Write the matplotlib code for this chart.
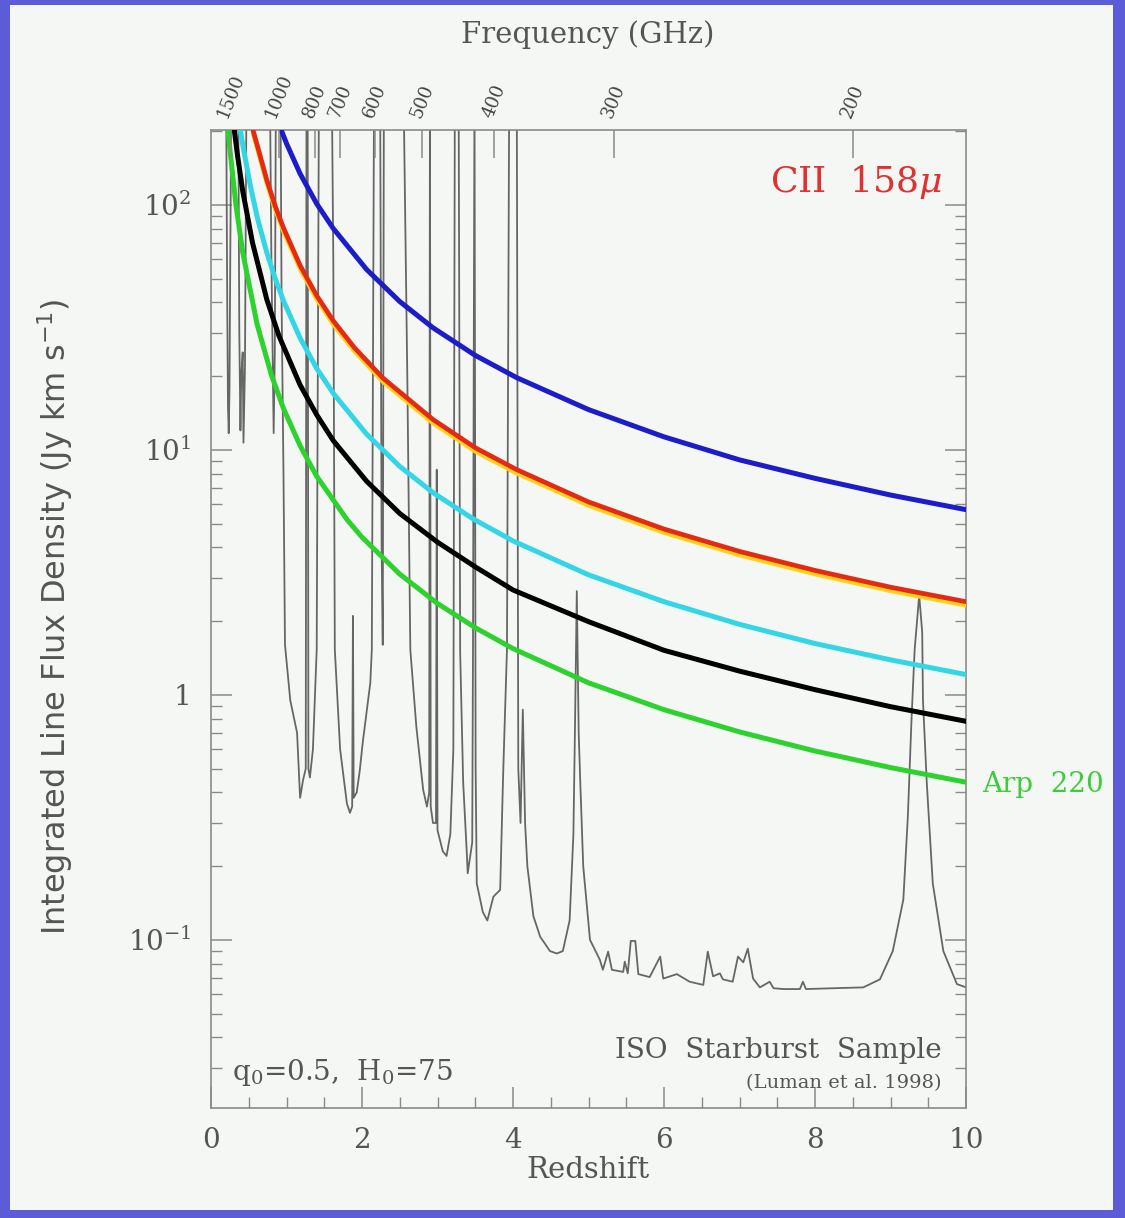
import numpy as np
import matplotlib
matplotlib.use("Agg")
import matplotlib.pyplot as plt
from matplotlib.patches import Rectangle
from matplotlib.ticker import LogLocator, MultipleLocator, NullFormatter, NullLocator

NU_CII = 1900.54   # rest frequency of [CII] 158 micron, GHz

# ---- coloured model curves (redshift, integrated flux Jy km/s) ----
blue_z = [0.90, 0.93, 1.0, 1.18, 1.4, 1.62, 2.06, 2.5, 2.94, 3.5, 4.05, 5.0, 6.0, 7.0, 8.0, 9.0, 10.0]
blue_v = [215, 202, 178, 134, 101, 80, 54.5, 40.3, 31.5, 24.3, 19.7, 14.6, 11.3, 9.1, 7.65, 6.54, 5.7]

red_z = [0.54, 0.56, 0.65, 0.74, 0.85, 0.96, 1.18, 1.4, 1.62, 1.9, 2.28, 2.94, 3.5, 4.05, 5.0, 6.0, 7.0, 8.0, 9.0, 10.0]
red_v = [220, 200, 159, 126, 99, 80.5, 56.6, 42.6, 33.6, 26.1, 19.6, 13.3, 10.2, 8.3, 6.13, 4.75, 3.85, 3.22, 2.75, 2.4]

cyan_z = [0.36, 0.38, 0.42, 0.52, 0.62, 0.74, 0.85, 0.96, 1.18, 1.4, 1.62, 2.06, 2.5, 2.94, 3.47, 4.0, 5.0, 6.0, 7.0, 8.0, 9.0, 10.0]
cyan_v = [240, 210, 176, 120, 87, 63.7, 50, 40.6, 28.6, 21.5, 17.0, 11.6, 8.56, 6.69, 5.23, 4.25, 3.09, 2.4, 1.94, 1.62, 1.39, 1.21]

black_z = [0.29, 0.31, 0.35, 0.42, 0.55, 0.74, 0.9, 1.18, 1.4, 1.62, 2.06, 2.5, 3.0, 3.5, 4.0, 5.0, 6.0, 7.0, 8.0, 9.0, 10.0]
black_v = [230, 200, 160, 114, 70, 41, 29.2, 18.4, 13.9, 10.9, 7.45, 5.5, 4.2, 3.33, 2.68, 1.99, 1.52, 1.25, 1.05, 0.895, 0.78]

green_z = [0.21, 0.225, 0.25, 0.33, 0.42, 0.61, 0.8, 0.96, 1.18, 1.40, 1.80, 2.0, 2.5, 3.0, 3.5, 4.0, 5.0, 6.0, 7.0, 8.0, 9.0, 10.0]
green_v = [240, 202, 169, 100, 64, 32.6, 20.2, 14.75, 10.4, 7.8, 5.2, 4.4, 3.11, 2.36, 1.88, 1.545, 1.12, 0.87, 0.706, 0.59, 0.505, 0.44]

# ---- sensitivity curve (grey), 300 = off the top of the plot ----
gray_z = [0.00, 0.20, 0.215, 0.225, 0.235, 0.245, 0.255, 0.27,
          0.36, 0.375, 0.39, 0.40, 0.42, 0.43, 0.45, 0.47,
          0.78, 0.80, 0.82, 0.83, 0.845, 0.86,
          0.92, 0.935, 0.96, 0.98, 1.05, 1.14, 1.18, 1.22, 1.255, 1.265, 1.28, 1.29,
          1.31, 1.35, 1.40, 1.43,
          1.60, 1.62, 1.64, 1.71, 1.80, 1.84, 1.87, 1.88, 1.89, 1.93, 1.97, 2.01,
          2.11, 2.13, 2.16,
          2.24, 2.26, 2.275, 2.29,
          2.55, 2.60, 2.64, 2.72, 2.81, 2.86, 2.89, 2.90, 2.91, 2.94, 2.98, 2.99,
          3.00, 3.07, 3.12, 3.17, 3.21, 3.23, 3.28, 3.30, 3.34, 3.39, 3.40, 3.46,
          3.47, 3.49,
          3.505, 3.52, 3.60, 3.66, 3.74, 3.83, 3.87, 3.92, 3.95, 4.05, 4.07, 4.10,
          4.13, 4.16, 4.19, 4.27, 4.36, 4.49, 4.58, 4.66, 4.75, 4.80, 4.82, 4.845,
          4.87, 4.89, 4.93, 5.02, 5.15, 5.19, 5.26, 5.31, 5.46, 5.48, 5.52, 5.56,
          5.62, 5.66, 5.81, 5.95, 5.99, 6.17, 6.34, 6.52, 6.58, 6.65, 6.74, 6.78,
          6.91, 6.98, 7.05, 7.11, 7.18, 7.27, 7.40, 7.45, 7.58, 7.80, 7.84, 7.88,
          8.64, 8.86, 9.03, 9.17, 9.23, 9.28, 9.32, 9.38, 9.42, 9.43, 9.48, 9.56,
          9.70, 9.88, 10.0]
gray_v = [300, 300, 40, 15, 11.7, 18, 60, 300,
          300, 30, 12, 20, 25, 10.7, 22, 300,
          300, 60, 20, 11.7, 25, 300,
          300, 40, 8, 1.6, 0.95, 0.70, 0.38, 0.45, 0.5, 300, 300, 0.5,
          0.46, 0.6, 1.53, 300,
          300, 60, 1.53, 0.6, 0.36, 0.33, 0.35, 2.1, 0.38, 0.4, 0.49, 0.64,
          1.12, 1.53, 300,
          300, 4, 1.6, 300,
          300, 20, 1.53, 0.74, 0.41, 0.35, 0.4, 300, 0.35, 0.30, 0.3, 8.3,
          0.28, 0.23, 0.22, 0.27, 0.6, 300, 300, 1.5, 0.44, 0.22, 0.187, 0.25,
          1.53, 300,
          0.5, 0.17, 0.13, 0.12, 0.15, 0.16, 0.48, 1.53, 300, 300, 0.5, 0.3,
          0.87, 0.3, 0.2, 0.125, 0.103, 0.09, 0.088, 0.09, 0.12, 0.27, 0.7, 2.65,
          0.7, 0.45, 0.2, 0.1, 0.083, 0.0755, 0.0895, 0.0755, 0.074, 0.0815, 0.073, 0.099,
          0.099, 0.0725, 0.0705, 0.0855, 0.0695, 0.0725, 0.0675, 0.0655, 0.0895, 0.071, 0.073, 0.069,
          0.0675, 0.0855, 0.081, 0.092, 0.0695, 0.064, 0.0675, 0.0635, 0.063, 0.063, 0.0675, 0.063,
          0.064, 0.069, 0.09, 0.146, 0.32, 0.82, 1.53, 2.55, 1.8, 0.95, 0.44, 0.17,
          0.09, 0.066, 0.064]

freq_ticks = [1500, 1000, 800, 700, 600, 500, 400, 300, 200]

PANEL = "#f5f7f5"
TXT = "#555555"
SPINE = "#8a8a8a"

plt.rcParams["font.family"] = ["DejaVu Serif"]
plt.rcParams["mathtext.fontset"] = "dejavuserif"

fig = plt.figure(figsize=(11.25, 12.18), dpi=100, facecolor="#5c5cd8")
fig.patches.append(Rectangle((10 / 1125, 8 / 1218), 1103 / 1125, 1205 / 1218,
                             transform=fig.transFigure, facecolor=PANEL,
                             edgecolor="none", zorder=-10))

ax = fig.add_axes([211 / 1125, 110 / 1218, 755 / 1125, 978 / 1218])
ax.set_facecolor(PANEL)
ax.set_yscale("log")
ax.set_xlim(0, 10)
ax.set_ylim(0.0206, 202)

ax.plot(gray_z, gray_v, color="#666666", lw=1.3, zorder=2)
ax.plot(blue_z, blue_v, color="#1c1cc8", lw=3.6, zorder=4)
ax.plot(red_z, np.array(red_v) * 0.965, color="#ffd21a", lw=3.0, zorder=4)
ax.plot(red_z, red_v, color="#e42a10", lw=3.4, zorder=5)
ax.plot(cyan_z, cyan_v, color="#34d6e6", lw=3.6, zorder=4)
ax.plot(black_z, black_v, color="black", lw=3.6, zorder=4)
ax.plot(green_z, green_v, color="#2ed22e", lw=3.6, zorder=4)

for s in ax.spines.values():
    s.set_color(SPINE)
    s.set_linewidth(1.2)

ax.xaxis.set_major_locator(MultipleLocator(2))
ax.xaxis.set_minor_locator(MultipleLocator(0.5))
ax.set_yticks([0.1, 1, 10, 100], labels=["$10^{-1}$", "1", "$10^{1}$", "$10^{2}$"])
ax.yaxis.set_minor_locator(LogLocator(base=10, subs=np.arange(2, 10)))
ax.yaxis.set_minor_formatter(NullFormatter())
ax.tick_params(which="both", direction="in", top=False, right=True,
               color=SPINE, labelcolor=TXT, labelsize=20, pad=14)
ax.tick_params(which="major", length=15, width=1.1)
ax.tick_params(which="minor", length=8, width=1.0)

# frequency axis along the top
tw = ax.twiny()
tw.set_xlim(ax.get_xlim())
tz = NU_CII / np.array(freq_ticks, dtype=float) - 1.0
tw.set_xticks(tz, labels=[str(f) for f in freq_ticks])
tw.xaxis.set_minor_locator(NullLocator())
tw.tick_params(axis="x", direction="in", length=20, width=1.1, color=SPINE,
               labelcolor="#444444", labelsize=13, pad=7, labelrotation=68)
for s in tw.spines.values():
    s.set_visible(False)

fig.text(588 / 1125, 1 - 35 / 1218, "Frequency (GHz)", ha="center", va="center",
         fontsize=21, color=TXT)
fig.text(588 / 1125, 1 - 1170 / 1218, "Redshift", ha="center", va="center",
         fontsize=21, color=TXT)
fig.text(55 / 1125, 1 - 617 / 1218, "Integrated Line Flux Density (Jy km s$^{-1}$)",
         rotation=90, ha="center", va="center", fontsize=23, color=TXT,
         family=["Liberation Sans Narrow", "DejaVu Sans"],
         math_fontfamily="dejavusans")

ax.text(0.968, 0.937, r"CII  158$\mu$", transform=ax.transAxes, ha="right",
        va="baseline", fontsize=26, color="#e03030")
ax.text(1.021, 0.323, "Arp  220", transform=ax.transAxes, ha="left",
        va="baseline", fontsize=20, color="#3ccc3c", clip_on=False)
ax.text(0.968, 0.051, "ISO  Starburst  Sample", transform=ax.transAxes, ha="right",
        va="baseline", fontsize=20, color=TXT)
ax.text(0.968, 0.020, "(Luman et al. 1998)", transform=ax.transAxes, ha="right",
        va="baseline", fontsize=14, color=TXT)
ax.text(0.028, 0.029, "q$_0$=0.5,  H$_0$=75", transform=ax.transAxes, ha="left",
        va="baseline", fontsize=20, color=TXT)

fig.savefig("out.png", dpi=100, facecolor=fig.get_facecolor())
